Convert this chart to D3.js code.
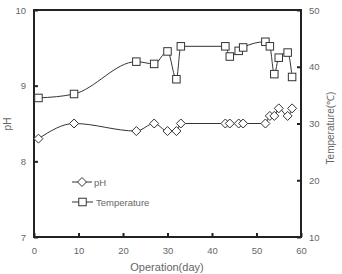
<!DOCTYPE html>
<html>
<head>
<meta charset="utf-8">
<script src="https://cdn.jsdelivr.net/npm/d3@7"></script>
<style>
body { margin: 0; background: #fff; }
text { font-family: "Liberation Sans", Arial, sans-serif; fill: #666; }
</style>
</head>
<body>
<script>
var days = [1, 9, 23, 27, 30, 32, 33, 43, 44, 46, 47, 52, 53, 54, 55, 57, 58];
var phValues = [8.3, 8.5, 8.4, 8.5, 8.4, 8.4, 8.5, 8.5, 8.5, 8.5, 8.5, 8.5, 8.6, 8.6, 8.7, 8.6, 8.7];
var tempValues = [34.5, 35.2, 40.9, 40.5, 42.7, 37.8, 43.6, 43.6, 41.8, 42.8, 43.4, 44.4, 43.6, 38.7, 41.6, 42.5, 38.2];
var xTicks = [0, 10, 20, 30, 40, 50, 60];
var phTicks = [7, 8, 9, 10];
var tempTicks = [10, 20, 30, 40, 50];

var W = 342, H = 274;
var pLeft = 34, pRight = 301, pTop = 10, pBottom = 237;

var svg = d3.select('body').append('svg').attr('width', W).attr('height', H);

var x = d3.scaleLinear().domain([0, 60]).range([pLeft, pRight]);
var yPh = d3.scaleLinear().domain([7, 10]).range([pBottom, pTop]);
var yT = d3.scaleLinear().domain([10, 50]).range([pBottom, pTop]);

// axes, ticks pointing inward
var xAxis = svg.append('g').attr('transform', 'translate(0,' + pBottom + ')')
  .call(d3.axisBottom(x).tickValues(xTicks).tickSizeInner(-4).tickSizeOuter(0).tickPadding(10));
var lAxis = svg.append('g').attr('transform', 'translate(' + pLeft + ',0)')
  .call(d3.axisLeft(yPh).tickValues(phTicks).tickFormat(d3.format('d')).tickSizeInner(-4).tickSizeOuter(0).tickPadding(8));
var rAxis = svg.append('g').attr('transform', 'translate(' + pRight + ',0)')
  .call(d3.axisRight(yT).tickValues(tempTicks).tickSizeInner(-4).tickSizeOuter(0).tickPadding(8));

[xAxis, lAxis, rAxis].forEach(function(a) {
  a.select('.domain').remove();
  a.selectAll('line').attr('stroke', '#222').attr('stroke-width', 2);
  a.selectAll('text').attr('fill', '#666').style('font-size', '9.5px');
});

svg.append('rect').attr('x', pLeft).attr('y', pTop).attr('width', pRight - pLeft).attr('height', pBottom - pTop)
  .attr('fill', 'none').attr('stroke', '#222').attr('stroke-width', 2);

function series(vals, yScale) {
  return days.map(function(d, i) { return [x(d), yScale(vals[i])]; });
}
var line = d3.line().curve(d3.curveMonotoneX);

var phPts = series(phValues, yPh);
var tPts = series(tempValues, yT);

svg.append('path').attr('d', line(phPts)).attr('fill', 'none').attr('stroke', '#333').attr('stroke-width', 1);
svg.append('path').attr('d', line(tPts)).attr('fill', 'none').attr('stroke', '#333').attr('stroke-width', 1);

function diamond(g, cx, cy) {
  var r = 4.5;
  g.append('path').attr('d', 'M' + cx + ',' + (cy - r) + 'L' + (cx + r) + ',' + cy + 'L' + cx + ',' + (cy + r) + 'L' + (cx - r) + ',' + cy + 'Z')
    .attr('fill', '#fff').attr('stroke', '#333').attr('stroke-width', 1);
}
function square(g, cx, cy) {
  var s = 7.5;
  g.append('rect').attr('x', cx - s / 2).attr('y', cy - s / 2).attr('width', s).attr('height', s)
    .attr('fill', '#fff').attr('stroke', '#333').attr('stroke-width', 1);
}

var mk = svg.append('g');
phPts.forEach(function(p) { diamond(mk, p[0], p[1]); });
tPts.forEach(function(p) { square(mk, p[0], p[1]); });

// legend
var lg = svg.append('g');
lg.append('line').attr('x1', 72).attr('x2', 92).attr('y1', 182).attr('y2', 182).attr('stroke', '#333');
diamond(lg, 82, 182);
lg.append('text').attr('x', 94).attr('y', 185.5).style('font-size', '9.5px').text('pH');
lg.append('line').attr('x1', 72).attr('x2', 93).attr('y1', 202).attr('y2', 202).attr('stroke', '#333');
square(lg, 82.5, 202);
lg.append('text').attr('x', 96).attr('y', 205.5).style('font-size', '9.5px').text('Temperature');

// axis titles
svg.append('text').attr('x', 167).attr('y', 271).attr('text-anchor', 'middle')
  .style('font-size', '11px').text('Operation(day)');
svg.append('text').attr('transform', 'translate(11,124) rotate(-90)').attr('text-anchor', 'middle')
  .style('font-size', '10px').text('pH');
svg.append('text').attr('transform', 'translate(334,128) rotate(-90)').attr('text-anchor', 'middle')
  .style('font-size', '10px').text('Temperature(℃)');
</script>
</body>
</html>
